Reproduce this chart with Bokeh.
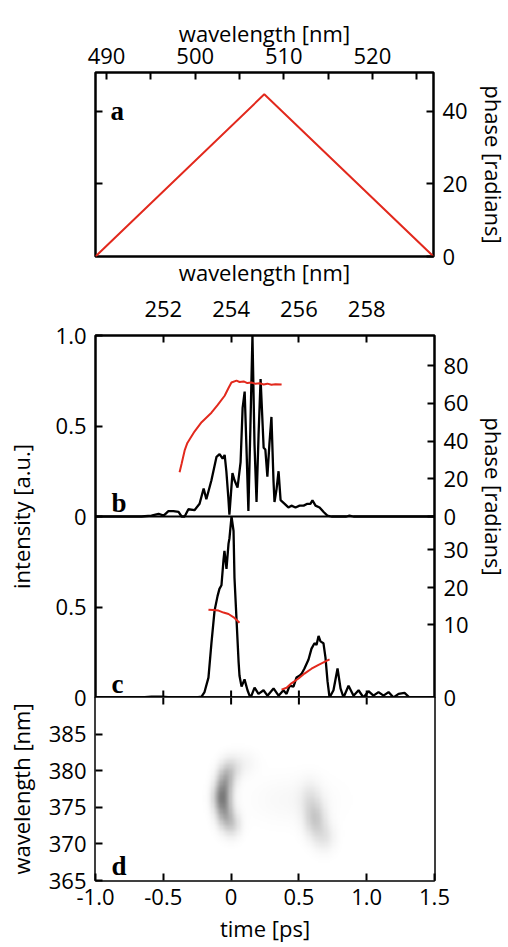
import numpy as np
from bokeh.plotting import figure
from bokeh.layouts import column
from bokeh.models import Range1d, LinearAxis, FixedTicker, Label, Span, LinearColorMapper
from bokeh.palettes import Greys256
from bokeh.embed import file_html
from bokeh.resources import INLINE

FONT = "Open Sans"
RED = "#e2291d"
NB = "\u00a0"

# ---------------- data ----------------
# panel a: applied spectral phase vs visible wavelength
a_wavelength = [488.75, 507.8, 526.9]
a_phase = [0.0, 44.6, 0.0]
a_top_ticks = [490, 495, 500, 505, 510, 515, 520, 525]
a_phase_ticks = [0, 20, 40]

# panel b: UV spectrum (intensity) and spectral phase vs wavelength [nm]
b_wavelength = [250.00, 251.36, 251.65, 251.86, 252.01, 252.15, 252.30, 252.45, 252.54, 252.63,
                252.74, 252.92, 253.07, 253.19, 253.27, 253.42, 253.57, 253.66, 253.75, 253.81,
                253.86, 253.92, 253.95, 254.04, 254.10, 254.19, 254.28, 254.34, 254.40, 254.45,
                254.51, 254.57, 254.63, 254.69, 254.75, 254.81, 254.87, 254.96, 255.01, 255.07,
                255.13, 255.19, 255.25, 255.28, 255.34, 255.40, 255.46, 255.58, 255.69, 255.78,
                255.90, 256.02, 256.14, 256.25, 256.34, 256.40, 256.49, 256.61, 256.73, 256.84,
                256.96, 257.40, 257.49, 257.61, 260.00]
b_intensity = [0.0, 0.0, 0.005, 0.015, 0.005, 0.03, 0.03, 0.025, 0.0, 0.0,
               0.04, 0.035, 0.07, 0.155, 0.095, 0.2, 0.33, 0.345, 0.32, 0.34,
               0.25, 0.1, 0.01, 0.24, 0.2, 0.16, 0.3, 0.6, 0.69, 0.4,
               0.03, 0.5, 1.0, 0.4, 0.08, 0.45, 0.76, 0.38, 0.37, 0.22,
               0.4, 0.55, 0.2, 0.08, 0.15, 0.25, 0.09, 0.07, 0.05, 0.06,
               0.05, 0.06, 0.06, 0.07, 0.07, 0.09, 0.06, 0.05, 0.025, 0.005,
               0.0, 0.0, 0.005, 0.0, 0.0]
b_phase_wavelength = [252.48, 252.54, 252.63, 252.71, 252.92, 253.13, 253.42, 253.60, 253.81, 253.92,
                      254.01, 254.16, 254.25, 254.37, 254.48, 254.60, 254.72, 254.84, 254.96, 255.07,
                      255.19, 255.31, 255.49]
b_phase = [23.5, 28, 35, 39, 45, 50, 55, 59, 64, 68,
           71, 72, 71.3, 71.6, 70.7, 71, 70.3, 70.6, 70, 70.4,
           69.8, 70.1, 69.9]
b_top_ticks = [252, 254, 256, 258]
b_phase_ticks = [0, 20, 40, 60, 80]

# panel c: temporal intensity and phase vs time [ps]
c_time = [-1.0, -0.661, -0.587, -0.513, -0.440, -0.255, -0.218, -0.196, -0.167, -0.145,
          -0.122, -0.100, -0.086, -0.071, -0.056, -0.049, -0.034, -0.019, -0.012, 0.003,
          0.018, 0.025, 0.040, 0.055, 0.062, 0.077, 0.099, 0.121, 0.136, 0.150,
          0.173, 0.202, 0.239, 0.268, 0.313, 0.350, 0.386, 0.409, 0.431, 0.460,
          0.482, 0.504, 0.519, 0.541, 0.571, 0.593, 0.615, 0.630, 0.645, 0.659,
          0.681, 0.696, 0.711, 0.726, 0.755, 0.785, 0.807, 0.829, 0.866, 0.903,
          0.940, 0.976, 1.013, 1.050, 1.087, 1.124, 1.161, 1.198, 1.235, 1.279,
          1.316, 1.5]
c_intensity = [0.0, 0.0, 0.005, 0.005, 0.0, 0.0, 0.005, 0.03, 0.11, 0.3,
               0.48, 0.56, 0.6, 0.62, 0.76, 0.81, 0.71, 0.85, 0.88, 1.0,
               0.92, 0.66, 0.43, 0.2, 0.12, 0.06, 0.1, 0.04, 0.01, 0.01,
               0.055, 0.02, 0.04, 0.01, 0.05, 0.01, 0.04, 0.02, 0.065, 0.06,
               0.11, 0.12, 0.13, 0.16, 0.21, 0.27, 0.3, 0.29, 0.34, 0.31,
               0.3, 0.22, 0.09, 0.0, 0.04, 0.16, 0.05, 0.0, 0.065, 0.01,
               0.04, 0.0, 0.035, 0.01, 0.03, 0.01, 0.03, 0.0, 0.02, 0.025,
               0.0, 0.0]
c_phase1_time = [-0.167, -0.130, -0.093, -0.056, -0.019, 0.025, 0.062]
c_phase1 = [18.0, 17.9, 17.8, 17.4, 17.1, 16.3, 15.3]
c_phase2_time = [0.372, 0.409, 0.445, 0.497, 0.541, 0.593, 0.645, 0.689, 0.726]
c_phase2 = [1.6, 2.0, 2.9, 3.9, 4.9, 5.9, 6.7, 7.3, 7.8]
c_phase_ticks = [0, 10, 20, 30]

# panel d: spectrogram, described by gaussian lobes (time, wavelength, strength, widths)
d_time = [-0.07, -0.045, 0.0, 0.09, -0.045, 0.01, 0.62, 0.585, 0.69, 0.45]
d_wavelength = [376.3, 378.6, 380.2, 381.0, 374.0, 372.6, 373.3, 376.2, 370.9, 376.0]
d_strength = [0.40, 0.27, 0.12, 0.04, 0.26, 0.14, 0.19, 0.08, 0.09, 0.03]
d_time_width = [0.045, 0.045, 0.05, 0.07, 0.045, 0.045, 0.055, 0.055, 0.055, 0.22]
d_wl_width = [1.4, 1.4, 1.2, 1.2, 1.4, 1.2, 1.7, 1.7, 1.4, 2.2]
d_ticks = [365, 370, 375, 380, 385]

time_ticks = [-1.0, -0.5, 0.0, 0.5, 1.0, 1.5]
time_labels = ["-1.0", "-0.5", "0", "0.5", "1.0", "1.5"]


def style_axis(ax, standoff=9):
    ax.axis_line_color = None
    ax.major_tick_in = 7
    ax.major_tick_out = 0
    ax.minor_tick_line_color = None
    ax.major_tick_line_width = 2
    ax.major_tick_line_color = "black"
    ax.major_label_text_font = FONT
    ax.major_label_text_font_size = "22px"
    ax.major_label_text_color = "black"
    ax.major_label_standoff = standoff
    ax.axis_label_text_font = FONT
    ax.axis_label_text_font_size = "22px"
    ax.axis_label_text_font_style = "normal"
    ax.axis_label_text_color = "black"


def letter(p, x, y, text, x_offset, y_offset):
    p.add_layout(Label(x=x, y=y, text=text, x_offset=x_offset, y_offset=y_offset,
                       text_font="Liberation Serif", text_font_size="27px",
                       text_font_style="bold", text_align="left",
                       text_baseline="alphabetic", text_color="black"))


def base_fig(xr, yr, fw, fh, bl, br, bt, bb):
    f = figure(frame_width=fw, frame_height=fh, min_border_left=bl, min_border_right=br,
               min_border_top=bt, min_border_bottom=bb, x_range=xr, y_range=yr,
               x_axis_location=None, y_axis_location=None,
               output_backend="svg", toolbar_location=None)
    f.grid.visible = False
    f.outline_line_color = "black"
    f.outline_line_width = 2.5
    return f


# ---------------- panel a ----------------
pa = base_fig(Range1d(488.75, 526.9), Range1d(0, 50.6), 338, 184, 95, 75, 72, 34)
ax_top = LinearAxis(ticker=FixedTicker(ticks=a_top_ticks),
                    major_label_overrides={t: ("" if t % 10 else str(t)) for t in a_top_ticks},
                    axis_label="wavelength [nm]")
style_axis(ax_top)
ax_top.axis_label_standoff = -3
pa.add_layout(ax_top, "above")
ax_right = LinearAxis(ticker=FixedTicker(ticks=a_phase_ticks), axis_label="phase [radians]")
style_axis(ax_right)
ax_right.axis_label_standoff = 8
pa.add_layout(ax_right, "right")
ax_left = LinearAxis(ticker=FixedTicker(ticks=a_phase_ticks[1:]),
                     major_label_overrides={v: "" for v in a_phase_ticks[1:]})
style_axis(ax_left)
pa.add_layout(ax_left, "left")
# title of the UV wavelength axis of panel b sits in the gap below panel a
ax_gap = LinearAxis(ticker=FixedTicker(ticks=[]), axis_label="wavelength [nm]")
style_axis(ax_gap, standoff=0)
ax_gap.axis_label_standoff = 0
pa.add_layout(ax_gap, "below")
pa.line(a_wavelength, a_phase, line_color=RED, line_width=2)
letter(pa, 488.75, 0, "a", 15, 146)

# ---------------- panels b and c (stacked in one frame) ----------------
pbc = base_fig(Range1d(-1.0, 1.5), Range1d(0.0, 2.0), 339, 362, 94, 75, 45, 16)
pbc.extra_x_ranges = {"wl": Range1d(250, 260)}

c_scale = 0.02697
pbc.line(c_time, c_intensity, line_color="black", line_width=2.3)
pbc.line(c_phase1_time, np.array(c_phase1) * c_scale, line_color=RED, line_width=2)
pbc.line(c_phase2_time, np.array(c_phase2) * c_scale, line_color=RED, line_width=2)

b_scale = 0.010425
pbc.line(b_wavelength, 1.0 + np.array(b_intensity), line_color="black", line_width=2.3,
         x_range_name="wl")
pbc.line(b_phase_wavelength, 1.0 + np.array(b_phase) * b_scale, line_color=RED, line_width=2,
         x_range_name="wl")

pbc.add_layout(Span(location=1.0, dimension="width", line_color="black", line_width=2))
sep_x = time_ticks[1:-1]
pbc.segment(x0=sep_x, y0=[0.0] * len(sep_x), x1=sep_x, y1=[0.038] * len(sep_x),
            line_color="black", line_width=2)

left_ticks = [0.0, 0.5, 1.0, 1.5, 2.0]
left_labels = ["0", "0.5", "0", "0.5", "1.0"]
ax_l = LinearAxis(ticker=FixedTicker(ticks=left_ticks),
                  major_label_overrides=dict(zip(left_ticks, left_labels)),
                  axis_label="intensity [a.u.]")
style_axis(ax_l)
ax_l.axis_label_standoff = 17
pbc.add_layout(ax_l, "left")

c_tick_pos = [0.0, 0.403, 0.607, 0.816]
b_tick_pos = [1.0 + v * b_scale for v in b_phase_ticks]
right_ticks = c_tick_pos + b_tick_pos
right_labels = [str(v) for v in c_phase_ticks] + [str(v) for v in b_phase_ticks]
ax_r = LinearAxis(ticker=FixedTicker(ticks=right_ticks),
                  major_label_overrides=dict(zip(right_ticks, right_labels)),
                  axis_label="phase [radians]" + NB * 7)
style_axis(ax_r)
ax_r.axis_label_standoff = 7
pbc.add_layout(ax_r, "right")

ax_t = LinearAxis(x_range_name="wl", ticker=FixedTicker(ticks=b_top_ticks))
style_axis(ax_t, standoff=19)
pbc.add_layout(ax_t, "above")

letter(pbc, -1.0, 1.0, "b", 16, 14)
letter(pbc, -1.0, 0.0, "c", 16, 14)

# ---------------- panel d: spectrogram (overlaps the bottom border of b/c) ----------------
pd_ = base_fig(Range1d(-1.0, 1.5), Range1d(365, 390), 339, 183, 94, 75, 16, 67)
pd_.border_fill_alpha = 0.0
pd_.margin = (-32, 0, 0, 0)
tt = np.linspace(-1.0, 1.5, 300)
ww = np.linspace(365, 390, 150)
T, W = np.meshgrid(tt, ww)
img = np.zeros_like(T)
for t0, w0, a0, st, sw in zip(d_time, d_wavelength, d_strength, d_time_width, d_wl_width):
    img += a0 * np.exp(-0.5 * ((T - t0) / st) ** 2 - 0.5 * ((W - w0) / sw) ** 2)
img = np.clip(img, 0, 1)
cmap = LinearColorMapper(palette=list(reversed(Greys256)), low=0, high=1)
pd_.image(image=[img], x=-1.0, y=365, dw=2.5, dh=25, color_mapper=cmap)
pd_.segment(x0=sep_x, y0=[390.0] * len(sep_x), x1=sep_x, y1=[389.05] * len(sep_x),
            line_color="black", line_width=2)

ax_dl = LinearAxis(ticker=FixedTicker(ticks=d_ticks), axis_label="wavelength [nm]")
style_axis(ax_dl)
ax_dl.axis_label_standoff = 10
pd_.add_layout(ax_dl, "left")
ax_db = LinearAxis(ticker=FixedTicker(ticks=time_ticks),
                   major_label_overrides=dict(zip(time_ticks, time_labels)),
                   axis_label="time [ps]")
style_axis(ax_db, standoff=8)
ax_db.axis_label_standoff = 5
pd_.add_layout(ax_db, "below")
letter(pd_, -1.0, 365, "d", 16, 15)

layout = column(pa, pbc, pd_, spacing=0)
open("out.html", "w").write(file_html(layout, INLINE))
